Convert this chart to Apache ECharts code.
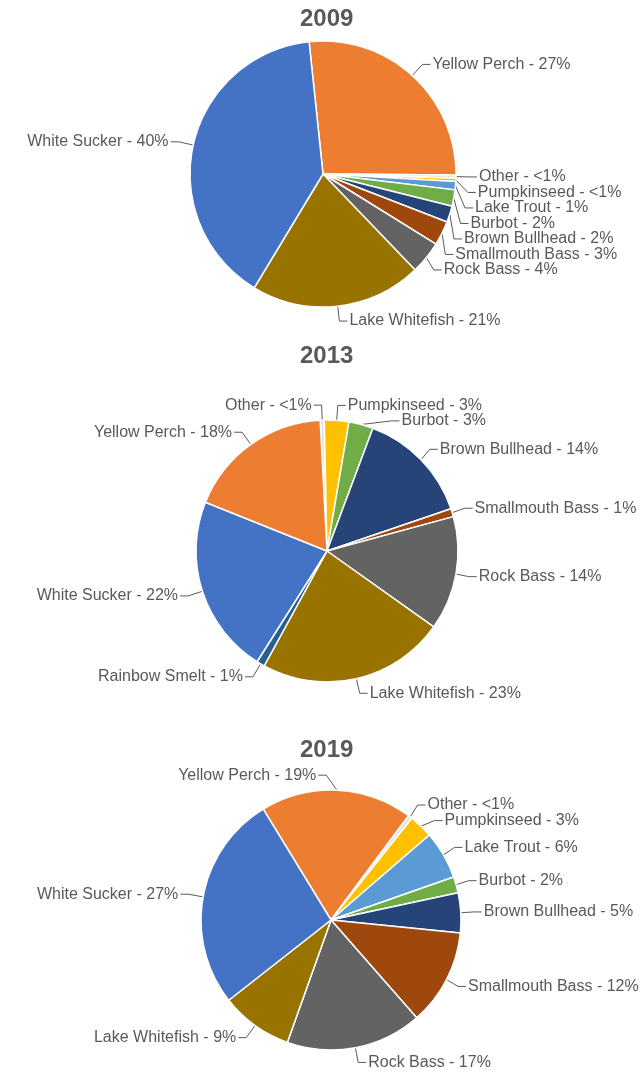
<!DOCTYPE html>
<html>
<head>
<meta charset="utf-8">
<title>Catch composition 2009 / 2013 / 2019</title>
<script src="https://cdn.jsdelivr.net/npm/echarts@6/dist/echarts.min.js"></script>
<style>
    html, body { margin: 0; padding: 0; background: #fff; }
    #main { width: 641px; height: 1072px; }
</style>
</head>
<body>
<div id="main"></div>
<script>
    // percent of catch, listed clockwise
    var names2009 = ['Yellow Perch', 'Other', 'Pumpkinseed', 'Lake Trout', 'Burbot', 'Brown Bullhead',
                     'Smallmouth Bass', 'Rock Bass', 'Lake Whitefish', 'White Sucker'];
    var values2009 = [27, 0.4, 0.4, 1, 2, 2, 3, 4, 21, 40];

    var names2013 = ['Other', 'Pumpkinseed', 'Burbot', 'Brown Bullhead', 'Smallmouth Bass', 'Rock Bass',
                     'Lake Whitefish', 'Rainbow Smelt', 'White Sucker', 'Yellow Perch'];
    var values2013 = [0.5, 3, 3, 14, 1, 14, 23, 1, 22, 18];

    var names2019 = ['Yellow Perch', 'Other', 'Pumpkinseed', 'Lake Trout', 'Burbot', 'Brown Bullhead',
                     'Smallmouth Bass', 'Rock Bass', 'Lake Whitefish', 'White Sucker'];
    var values2019 = [19, 0.5, 3, 6, 2, 5, 12, 17, 9, 27];

    var years = ['2009', '2013', '2019'];

    // same colour for a species in every year
    var colors = {
        'White Sucker': '#4472C4',
        'Yellow Perch': '#ED7D31',
        'Other': '#E4E4E4',
        'Pumpkinseed': '#FFC000',
        'Lake Trout': '#5B9BD5',
        'Burbot': '#70AD47',
        'Brown Bullhead': '#264478',
        'Smallmouth Bass': '#9E480E',
        'Rock Bass': '#636363',
        'Lake Whitefish': '#997300',
        'Rainbow Smelt': '#255E91'
    };

    var fontName = '"Liberation Sans", Arial, sans-serif';
    var chart = echarts.init(document.getElementById('main'));

    function pctText(v) {
        return v < 1 ? '<1%' : Math.round(v) + '%';
    }

    // the 2019 Yellow Perch label sits left of its leader line in the original,
    // so mirror the line ECharts computed for it and put the text on that side
    function flipLeft(params) {
        var pts = params.labelLinePoints;
        if (!pts || pts.length < 3) return;
        var p0 = pts[0], p1 = pts[1];
        var q1 = [p0[0] - (p1[0] - p0[0]) - 10, p1[1]];
        var q2 = [q1[0] - 8, p1[1]];
        return {
            x: q2[0] - 2,
            y: q2[1],
            align: 'right',
            verticalAlign: 'middle',
            labelLinePoints: [p0, q1, q2]
        };
    }

    function makePie(names, values, center, radius, startAngle, leftLabels) {
        var data = [];
        for (var i = 0; i < names.length; i++) {
            data.push({ name: names[i], value: values[i], itemStyle: { color: colors[names[i]] } });
        }
        var s = {
            type: 'pie',
            // wider box than the canvas so long right-hand labels are not cut with "..."
            left: 0,
            top: 0,
            width: 760,
            height: 1072,
            center: center,
            radius: radius,
            startAngle: startAngle,
            clockwise: true,
            avoidLabelOverlap: true,
            animation: false,
            itemStyle: { borderColor: '#ffffff', borderWidth: 1.5 },
            label: {
                show: true,
                formatter: function (p) { return p.name + ' - ' + pctText(p.value); },
                color: '#595959',
                fontSize: 16,
                fontFamily: fontName,
                lineHeight: 16,
                minMargin: -0.5,
                distanceToLabelLine: 2
            },
            labelLine: {
                show: true,
                length: 15,
                length2: 8,
                lineStyle: { color: '#595959', width: 1 }
            },
            emphasis: { disabled: true },
            data: data
        };
        if (leftLabels) {
            s.labelLayout = function (params) {
                if (leftLabels.indexOf(params.dataIndex) >= 0) return flipLeft(params);
            };
        }
        return s;
    }

    var titleTops = [7, 344, 738];
    var titles = [];
    for (var t = 0; t < years.length; t++) {
        titles.push({
            text: years[t],
            left: 300,
            top: titleTops[t],
            padding: 0,
            textStyle: { fontSize: 24, fontWeight: 'bold', color: '#595959', fontFamily: fontName }
        });
    }

    var options = {
        backgroundColor: '#ffffff',
        title: titles,
        series: [
            makePie(names2009, values2009, [323, 174], 133, 96),
            makePie(names2013, values2013, [327, 551], 131, 93),
            makePie(names2019, values2019, [331, 920], 130, 121.4, [0])
        ]
    };

    chart.setOption(options);
</script>
</body>
</html>
